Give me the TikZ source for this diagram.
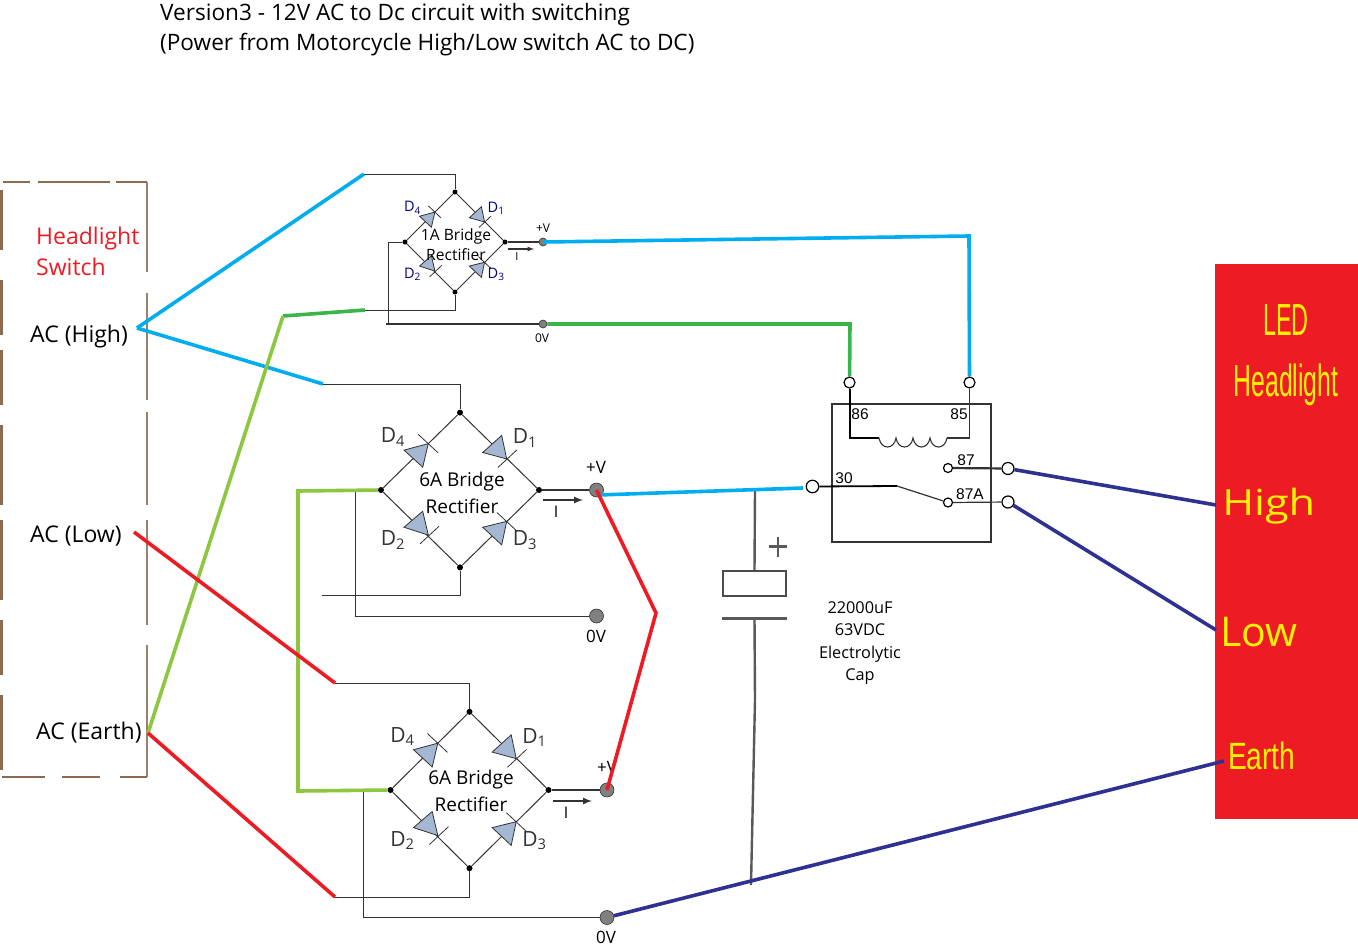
\documentclass[tikz,border=0pt]{standalone}
\usepackage{fontspec}
\setmainfont{Open Sans}
\newfontfamily\arialf{Liberation Sans}
\definecolor{cblue}{HTML}{00AEEF}
\definecolor{cgreen}{HTML}{39B54A}
\definecolor{clime}{HTML}{8DC63F}
\definecolor{cred}{HTML}{ED1C24}
\definecolor{cnavy}{HTML}{2E3192}
\definecolor{cbrown}{HTML}{8C6B50}
\definecolor{cdiode}{HTML}{A4B8D4}
\definecolor{cwire}{HTML}{333333}
\definecolor{cyel}{HTML}{FFF200}
\tikzset{
  wire/.style={draw=cwire,line width=1pt},
  hvwire/.style={draw=cwire,line width=2.2pt},
  bluew/.style={draw=cblue,line width=3.6pt},
  greenw/.style={draw=cgreen,line width=3.6pt},
  limew/.style={draw=clime,line width=3.6pt},
  redw/.style={draw=cred,line width=3.6pt},
  navyw/.style={draw=cnavy,line width=3.6pt},
  capw/.style={draw=black!65,line width=2.4pt},
  dot/.style={circle,fill=black,inner sep=0pt,minimum size=#1},
  post/.style={circle,fill=gray,draw=cwire,line width=.6pt,inner sep=0pt,minimum size=#1},
  term/.style={circle,fill=white,draw=black,line width=1.2pt,inner sep=0pt,minimum size=#1},
  txt/.style={inner sep=0pt,anchor=west,text=black},
  ctxt/.style={inner sep=0pt,anchor=center,text=black,align=center},
}
\newcommand{\rectbridge}[8]{%
 \begin{scope}[shift={(#2,#3)},xscale=#4,yscale=#5]
  \node[dot=#8] (#1t) at (0,-79) {};
  \node[dot=#8] (#1l) at (-79,0) {};
  \node[dot=#8] (#1r) at (79,0) {};
  \node[dot=#8] (#1b) at (0,79) {};
  \draw[draw=cwire,line width=1pt] (#1t)--(#1r)--(#1b)--(#1l)--(#1t);
  \foreach \ax/\ay/\bx/\by/\cx/\cy/\dx/\dy/\ex/\ey in {
     46.7/-31.7/22.7/-38.3/41.7/-55.7/38/-23/57/-41,
     -31.7/-47.3/-56/-40.7/-37.3/-23.3/-42/-57/-22/-38,
     -31.7/46/-56/38/-37.3/21.7/-40/55/-21/37,
     46.7/32/22.7/38/41.7/56/37/23/57/42}{
    \filldraw[fill=cdiode,draw=cwire,line width=.8pt] (\ax,\ay)--(\bx,\by)--(\cx,\cy)--cycle;
    \draw[draw=cwire,line width=.8pt] (\dx,\dy)--(\ex,\ey);
  }
  \node[ctxt,font=\fontsize{#6}{#6}\selectfont,text=#7] (#1dd) at (65,-53) {D\textsubscript{1}};
  \node[ctxt,font=\fontsize{#6}{#6}\selectfont,text=#7] (#1da) at (-67,-54) {D\textsubscript{4}};
  \node[ctxt,font=\fontsize{#6}{#6}\selectfont,text=#7] (#1db) at (-67,51) {D\textsubscript{2}};
  \node[ctxt,font=\fontsize{#6}{#6}\selectfont,text=#7] (#1dc) at (65,51) {D\textsubscript{3}};
 \end{scope}}
\begin{document}
\begin{tikzpicture}[x=1pt,y=-1pt]
\useasboundingbox (0,0) rectangle (1358,951);
\fill[white] (0,0) rectangle (1358,951);
% title
\node[txt,font=\fontsize{22.6}{22.6}\selectfont] (title1) at (160,15) {Version3 - 12V AC to Dc circuit with switching};
\node[txt,font=\fontsize{22.6}{22.6}\selectfont] (title2) at (160,45) {(Power from Motorcycle High/Low switch AC to DC)};
% switch box
\draw[draw=cbrown,line width=2pt] (3,182)--(30,182) (38,182)--(110,182) (116,182)--(147,182);
\draw[draw=cbrown!85,line width=2.6pt] (147,182)--(147,272) (147,293)--(147,400) (147,412)--(147,505) (147,520)--(147,625) (147,645)--(147,777);
\draw[draw=cbrown,line width=2pt] (147,777)--(120,777) (100,777)--(62,777) (45,777)--(2,777);
\draw[draw=cbrown,line width=3pt] (1,190)--(1,250) (1,280)--(1,335) (1,350)--(1,405) (1,425)--(1,505) (1,520)--(1,600) (1,620)--(1,675) (1,695)--(1,770);
\node[txt,font=\fontsize{23}{23}\selectfont,text=cred] (hl1) at (36,238.5) {Headlight};
\node[txt,font=\fontsize{23}{23}\selectfont,text=cred] (hl2) at (36,267) {Switch};
\node[txt,font=\fontsize{23}{23}\selectfont] (achi) at (30,337) {AC (High)};
\node[txt,font=\fontsize{23}{23}\selectfont] (aclo) at (30,536) {AC (Low)};
\node[txt,font=\fontsize{23}{23}\selectfont] (acea) at (36,733) {AC (Earth)};
% LED block
\node[fill=cred,inner sep=0pt,minimum width=143pt,minimum height=555pt] (led) at (1286.5,541.5) {};
\node[ctxt,font=\fontsize{45}{45}\arialf,text=cyel,xscale=.52] (ledt1) at (1286,320) {LED};
\node[ctxt,font=\fontsize{45}{45}\arialf,text=cyel,xscale=.55] (ledt2) at (1286,385) {Headlight};
\node[txt,font=\fontsize{36}{36}\selectfont,text=cyel,xscale=1.2] (ledh) at (1222,506) {High};
\node[txt,font=\fontsize{41}{41}\selectfont,text=cyel] (ledl) at (1220,632) {Low};
\node[txt,font=\fontsize{38}{38}\arialf,text=cyel,xscale=.74] (lede) at (1228,756) {Earth};
% bridges
\rectbridge{a}{455}{242}{.633}{.633}{14.5}{blue!50!black}{5pt}
\rectbridge{b}{460}{490}{1}{.98}{21}{cwire}{6pt}
\rectbridge{c}{469.5}{790}{1}{.99}{21}{cwire}{6pt}
\node[ctxt,font=\fontsize{15.6}{20}\selectfont] (at1) at (456,236) {1A Bridge};
\node[ctxt,font=\fontsize{15.6}{20}\selectfont] (at2) at (456,255) {Rectifier};
\node[ctxt,font=\fontsize{19}{20}\selectfont] (bt1) at (462,482) {6A Bridge};
\node[ctxt,font=\fontsize{19}{20}\selectfont] (bt2) at (462,506) {Rectifier};
\node[ctxt,font=\fontsize{19}{20}\selectfont] (ct1) at (471,780) {6A Bridge};
\node[ctxt,font=\fontsize{19}{20}\selectfont] (ct2) at (471,804) {Rectifier};
% free ends and junctions
\coordinate (ahi) at (137,328);
\coordinate (atop) at (364,174);
\coordinate (abot) at (365,310);
\coordinate (akink) at (283,316);
\coordinate (btop) at (323,384);
\coordinate (bbot) at (322,595);
\coordinate (alow) at (134,532);
\coordinate (ctop) at (335,683);
\coordinate (aear) at (148,733);
\coordinate (cbot) at (335,897);
\coordinate (rkink) at (656,613);
\coordinate (bc) at (969,236);
\coordinate (gc) at (850,324);
\coordinate (capjoin) at (755,490);
\coordinate (capend) at (751,885);
\coordinate (capmid) at (755,700);
\coordinate (lowh) at (1216,505);
\coordinate (lowl) at (1216,630);
\coordinate (lowe) at (1224,761);
\coordinate (bluea) at (598,495);
\coordinate (blueb) at (803,488);
% posts
\node[post=8pt] (ap) at (543,242) {};
\node[post=8pt] (an) at (543,324) {};
\node[post=14pt] (bp) at (596.5,490) {};
\node[post=14pt] (bn) at (596.5,616) {};
\node[post=14pt] (cp) at (607,790) {};
\node[post=14pt] (cn) at (607,917.5) {};
% relay terminals
\node[term=11pt] (t86) at (849.5,382.5) {};
\node[term=11pt] (t85) at (969.5,382.5) {};
\node[term=12.5pt] (t30) at (812.5,486.5) {};
\node[term=9pt] (t87i) at (948,468) {};
\node[term=9pt] (t87ai) at (948,502.5) {};
\node[term=12pt] (t87) at (1008,468.5) {};
\node[term=12pt] (t87a) at (1008,502) {};
% thin black wires
\draw[wire] (atop)-|(at);
\draw[wire] (abot)-|(ab);
\draw[wire] (al)-|(388,324);
\draw[hvwire] (386,324)--(an);
\draw[hvwire] (ar)--(ap);
\draw[wire] (btop)-|(bt);
\draw[wire] (bbot)-|(bb);
\draw[wire] (355,490)|-(bn);
\draw[hvwire] (bl)--(355,490);
\draw[hvwire] (br)--(bp);
\draw[wire] (ctop)-|(ct);
\draw[wire] (cbot)-|(cb);
\draw[wire] (363,790)|-(cn);
\draw[hvwire] (cl)--(363,790);
\draw[hvwire] (cr)--(cp);
% current arrows
\draw[-latex,draw=cwire,line width=1.2pt] (508,249)--(534,249);
\draw[-latex,draw=cwire,line width=2pt] (543,500)--(583,500);
\draw[-latex,draw=cwire,line width=2pt] (553,801)--(592,801);
\node[ctxt,font=\fontsize{11}{11}\selectfont] (ia) at (517,257) {I};
\node[ctxt,font=\fontsize{16}{16}\selectfont] (ib) at (556,512) {I};
\node[ctxt,font=\fontsize{16}{16}\selectfont] (ic) at (566,813) {I};
% post labels
\node[ctxt,font=\fontsize{12}{12}\selectfont] (vap) at (543,228) {+V};
\node[ctxt,font=\fontsize{12}{12}\selectfont] (van) at (542,338) {0V};
\node[ctxt,font=\fontsize{17}{17}\selectfont] (vbp) at (596,467) {+V};
\node[ctxt,font=\fontsize{17}{17}\selectfont] (vbn) at (596,636) {0V};
\node[ctxt,font=\fontsize{17}{17}\selectfont] (vcp) at (607,767) {+V};
\node[ctxt,font=\fontsize{17}{17}\selectfont] (vcn) at (606,937) {0V};
% relay
\draw[draw=cwire,line width=2pt] (832,404) rectangle (991,542);
\draw[draw=black,line width=2pt] (t86)--(849.5,438)--(879,438);
\draw[draw=cwire,line width=1.6pt] (t85)--(969.5,438)--(947,438);
\draw[draw=cwire,line width=1.1pt] (879,438) .. controls (881,450) and (894,450) .. (896,438)
  .. controls (898,450) and (911,450) .. (913,438)
  .. controls (915,450) and (928,450) .. (930,438)
  .. controls (932,450) and (945,450) .. (947,438);
\draw[draw=black,line width=1.8pt] (t30)--(897,486);
\draw[draw=cwire,line width=1.2pt] (897,486)--(t87ai);
\draw[draw=cwire,line width=2.2pt] (t87i)--(t87);
\draw[draw=cwire,line width=1.2pt] (t87ai)--(t87a);
\node[ctxt,font=\fontsize{15.5}{15}\arialf] (l86) at (860,414) {86};
\node[ctxt,font=\fontsize{15.5}{15}\arialf] (l85) at (959,414) {85};
\node[ctxt,font=\fontsize{15.5}{15}\arialf] (l87) at (966,460) {87};
\node[ctxt,font=\fontsize{15.5}{15}\arialf] (l30) at (844,478) {30};
\node[ctxt,font=\fontsize{15.5}{15}\arialf] (l87a) at (970,494) {87A};
% capacitor
\node[draw=black!70,line width=2.4pt,fill=white,inner sep=0pt,minimum width=63pt,minimum height=25pt] (capbody) at (754.5,583.5) {};
\coordinate (capplate) at (754.5,618);
\draw[capw] (capjoin)--(capbody.north);
\draw[capw,line width=3pt] (722,618)--(787,618);
\draw[capw] (capplate)--(capmid)--(capend);
\draw[capw] (769,546.5)--(787,546.5) (778,537)--(778,557);
\node[ctxt,font=\fontsize{16.3}{22.4}\selectfont] (captxt) at (860,643) {22000uF\\63VDC\\Electrolytic\\Cap};
% coloured wires
\draw[bluew] (ahi)--(atop);
\draw[bluew] (ahi)--(btop);
\draw[bluew] (ap.center)--(bc)--(t85);
\draw[greenw] (an)--(gc)--(t86);
\draw[greenw] (abot)--(akink);
\draw[limew] (akink)--(aear);
\draw[limew] (bl)--(298,491)--(298,791)--(cl);
\draw[redw] (alow)--(ctop);
\draw[redw] (aear)--(cbot);
\draw[bluew] (bluea)--(blueb);
\draw[redw] (bp.center)--(rkink)--(cp.center);
\draw[navyw] (cn)--(lowe);
\draw[navyw] (t87)--(lowh);
\draw[navyw] (t87a)--(lowl);
\end{tikzpicture}
\end{document}
